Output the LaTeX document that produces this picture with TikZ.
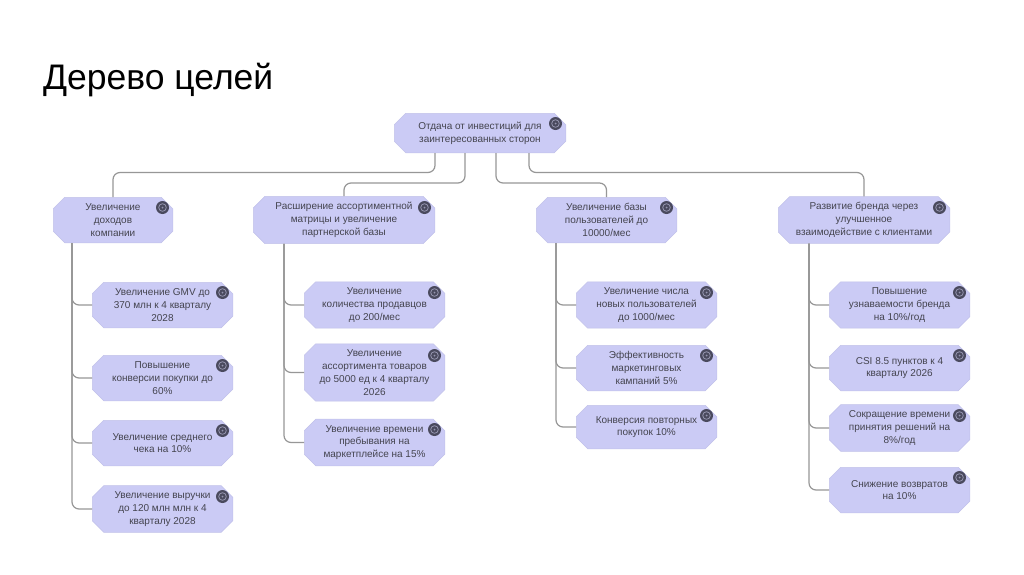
\documentclass[tikz,border=0pt]{standalone}
\usepackage{fontspec}
\setmainfont{Liberation Sans}
\usetikzlibrary{shapes.misc,calc}
\definecolor{boxfill}{HTML}{CBCBF5}
\definecolor{boxedge}{HTML}{C2C2EA}
\definecolor{boxtext}{HTML}{44444F}
\definecolor{linecol}{HTML}{979797}
\definecolor{icondark}{HTML}{4A4A5E}
\definecolor{iconring}{HTML}{9494AE}
\tikzset{
  goalbox/.style={chamfered rectangle,chamfered rectangle xsep=5.5pt,chamfered rectangle ysep=6pt,
    draw=boxedge,line width=0.5pt,fill=boxfill,inner sep=0pt,align=center,text=boxtext,
    font=\fontsize{10}{12.8}\selectfont},
  conn/.style={draw=linecol,line width=1.2pt,rounded corners=7pt},
  icon/.style={circle,fill=icondark,minimum size=13pt,inner sep=0pt},
  titletext/.style={anchor=base west,inner sep=0pt,text=black,font=\fontsize{35.5}{40}\selectfont}
}
\newcommand{\gbox}[6]{%
  \pgfmathsetmacro{\cxv}{(#2+#4)/2}\pgfmathsetmacro{\cyv}{(#3+#5)/2}%
  \pgfmathsetmacro{\wv}{#4-#2-0.5}\pgfmathsetmacro{\hv}{#5-#3-0.5}%
  \pgfmathsetmacro{\ixv}{#4-10.5}\pgfmathsetmacro{\iyv}{#3+10.5}%
  \node[goalbox,minimum width=\wv pt,minimum height=\hv pt] (#1) at (\cxv,\cyv) {#6};
  \node[icon] (#1i) at (\ixv,\iyv) {};
  \draw[iconring,line width=0.8pt] (#1i.center) circle (3.8pt);
  \fill[iconring] (#1i.center) circle (1pt);
}
\begin{document}
\begin{tikzpicture}[x=1pt,y=-1pt]
\useasboundingbox[fill=white] (0,0) rectangle (1024,574);
\node[titletext] (title) at (43,89) {Дерево целей};

\gbox{root}{394}{113}{566}{153}{Отдача от инвестиций для\\заинтересованных сторон}
\gbox{a}{53}{197}{173}{243}{Увеличение\\доходов\\компании}
\gbox{b}{253}{197}{435}{243}{Расширение ассортиментной\\матрицы и увеличение\\партнерской базы}
\gbox{c}{536}{197}{677}{243}{Увеличение базы\\пользователей до\\10000/мес}
\gbox{d}{778}{197}{950}{243}{Развитие бренда через\\улучшенное\\взаимодействие с клиентами}

\gbox{a1}{92}{282}{233}{328}{Увеличение GMV до\\370 млн к 4 кварталу\\2028}
\gbox{a2}{92}{355}{233}{401}{Повышение\\конверсии покупки до\\60\%}
\gbox{a3}{92}{420}{233}{466}{Увеличение среднего\\чека на 10\%}
\gbox{a4}{92}{486}{233}{532}{Увеличение выручки\\до 120 млн млн к 4\\кварталу 2028}

\gbox{b1}{304}{282}{445}{328}{Увеличение\\количества продавцов\\до 200/мес}
\gbox{b2}{304}{345}{445}{400}{Увеличение\\ассортимента товаров\\до 5000 ед к 4 кварталу\\2026}
\gbox{b3}{304}{419}{445}{466}{Увеличение времени\\пребывания на\\маркетплейсе на 15\%}

\gbox{c1}{576}{282}{717}{328}{Увеличение числа\\новых пользователей\\до 1000/мес}
\gbox{c2}{576}{345}{717}{391}{Эффективность\\маркетинговых\\кампаний 5\%}
\gbox{c3}{576}{405}{717}{449}{Конверсия повторных\\покупок 10\%}

\gbox{d1}{829}{282}{970}{328}{Повышение\\узнаваемости бренда\\на 10\%/год}
\gbox{d2}{829}{345}{970}{391}{CSI 8.5 пунктов к 4\\кварталу 2026}
\gbox{d3}{829}{405}{970}{451}{Сокращение времени\\принятия решений на\\8\%/год}
\gbox{d4}{829}{467}{970}{513}{Снижение возвратов\\на 10\%}

\draw[conn] ([xshift=-45pt]root.south) -- ++(0,19.5) -| (a.north);
\draw[conn] ([xshift=-15pt]root.south) -- ++(0,30) -| (b.north);
\draw[conn] ([xshift=16pt]root.south) -- ++(0,30) -| (c.north);
\draw[conn] ([xshift=49pt]root.south) -- ++(0,19.5) -| (d.north);

\foreach \k in {1,2,3,4} \draw[conn] ([xshift=-41pt]a.south) |- (a\k.west);
\foreach \k in {1,2,3} \draw[conn] ([xshift=-60pt]b.south) |- (b\k.west);
\foreach \k in {1,2,3} \draw[conn] ([xshift=-50.5pt]c.south) |- (c\k.west);
\foreach \k in {1,2,3,4} \draw[conn] ([xshift=-55pt]d.south) |- (d\k.west);
\end{tikzpicture}
\end{document}
